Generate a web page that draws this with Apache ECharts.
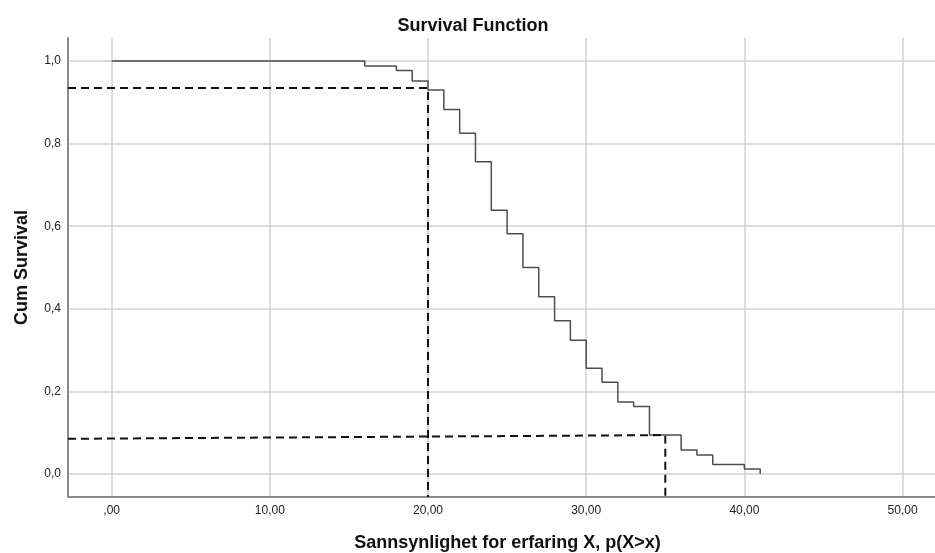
<!DOCTYPE html>
<html>
<head>
<meta charset="utf-8">
<script src="https://cdn.jsdelivr.net/npm/echarts@6/dist/echarts.min.js"></script>
<style>
    html, body { margin: 0; padding: 0; background: #fff; }
    #chart { width: 935px; height: 553px; }
</style>
</head>
<body>
<div id="chart"></div>
<script>
// survival curve (Kaplan-Meier steps)
const times = [0, 16, 18, 19, 20, 21, 22, 23, 24, 25, 26, 27, 28, 29, 30, 31, 32, 33, 34, 36, 37, 38, 40, 41];
const survival = [1.0, 0.988, 0.977, 0.952, 0.930, 0.883, 0.825, 0.756, 0.639, 0.582, 0.500, 0.429, 0.371, 0.324, 0.256, 0.222, 0.174, 0.163, 0.094, 0.058, 0.046, 0.023, 0.012, 0.0];

// axis ranges and tick values
const xMin = -2.76, xMax = 52.05;
const yMin = -0.056, yMax = 1.056;
const xTicks = [0, 10, 20, 30, 40, 50];
const yTicks = [0, 0.2, 0.4, 0.6, 0.8, 1.0];

// dashed reference lines
const refLine1X = [xMin, 20, 20];
const refLine1Y = [0.935, 0.935, yMin];
const refLine2X = [xMin, 35, 35];
const refLine2Y = [0.085, 0.094, yMin];

function zip(xs, ys) {
    return xs.map((x, i) => [x, ys[i]]);
}

function xLabel(v) {
    let s = v.toFixed(2).replace('.', ',');
    if (s.startsWith('0,')) s = s.slice(1);
    return s;
}

const font = 'Liberation Sans, Arial, sans-serif';

const chart = echarts.init(document.getElementById('chart'), null, { renderer: 'canvas' });
const option = {
    animation: false,
    backgroundColor: '#fff',
    textStyle: { fontFamily: font },
    title: {
        text: 'Survival Function',
        left: 468,
        top: 12,
        textAlign: 'center',
        textStyle: { fontFamily: font, fontSize: 18, fontWeight: 'bold', color: '#111' }
    },
    grid: { left: 68, right: 0, top: 38, bottom: 56, outerBoundsMode: 'none', containLabel: false },
    xAxis: {
        type: 'value',
        min: xMin,
        max: xMax,
        name: 'Sannsynlighet for erfaring X, p(X>x)',
        nameLocation: 'middle',
        nameGap: 37,
        nameTextStyle: { fontFamily: font, fontSize: 18, fontWeight: 'bold', color: '#111', padding: [0, 0, 0, 12] },
        axisLine: { show: true, onZero: false, lineStyle: { color: '#8c8c8c', width: 2 } },
        axisTick: { show: false, customValues: xTicks },
        axisLabel: {
            customValues: xTicks,
            formatter: xLabel,
            fontSize: 12,
            color: '#222',
            margin: 8
        },
        splitLine: { show: true, lineStyle: { color: '#d0d0d0', width: 1.5 } }
    },
    yAxis: {
        type: 'value',
        min: yMin,
        max: yMax,
        name: 'Cum Survival',
        nameLocation: 'middle',
        nameRotate: 90,
        nameGap: 37,
        nameTextStyle: { fontFamily: font, fontSize: 18, fontWeight: 'bold', color: '#111' },
        axisLine: { show: true, onZero: false, lineStyle: { color: '#8c8c8c', width: 2 } },
        axisTick: { show: false, customValues: yTicks },
        axisLabel: {
            customValues: yTicks,
            formatter: v => v.toFixed(1).replace('.', ','),
            fontSize: 12,
            color: '#222',
            margin: 7
        },
        splitLine: { show: true, lineStyle: { color: '#d0d0d0', width: 1.5 } }
    },
    series: [
        {
            type: 'line',
            step: 'end',
            data: zip(times, survival),
            showSymbol: false,
            lineStyle: { color: '#4d4d4d', width: 1.5 },
            z: 3
        },
        {
            type: 'line',
            data: zip(refLine1X, refLine1Y),
            showSymbol: false,
            lineStyle: { color: '#111', width: 2, type: [8, 5] },
            z: 4
        },
        {
            type: 'line',
            data: zip(refLine2X, refLine2Y),
            showSymbol: false,
            lineStyle: { color: '#111', width: 2, type: [8, 5] },
            z: 4
        }
    ]
};
chart.setOption(option);
</script>
</body>
</html>
